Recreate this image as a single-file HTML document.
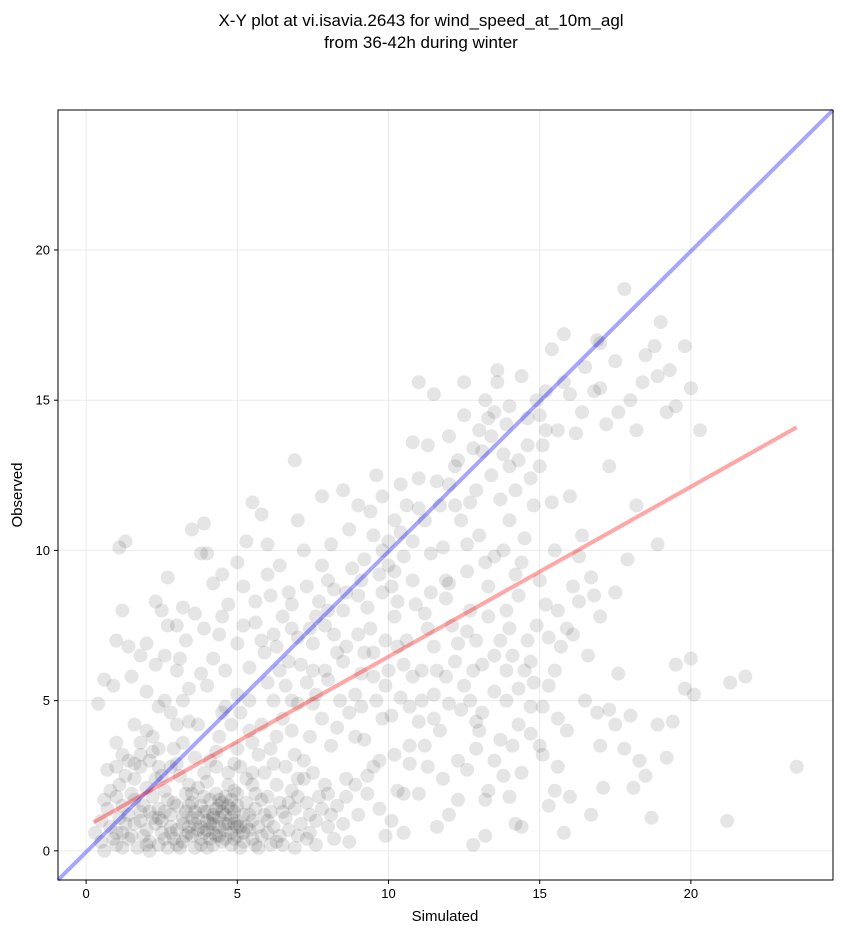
<!DOCTYPE html>
<html><head><meta charset="utf-8"><style>
body{margin:0;background:#fff;font-family:"Liberation Sans","DejaVu Sans",sans-serif}
</style></head><body>
<svg id="chart" width="843" height="934" xmlns="http://www.w3.org/2000/svg" font-family="Liberation Sans, DejaVu Sans, sans-serif">
<text x="421" y="26" text-anchor="middle" font-size="17">X-Y plot at vi.isavia.2643 for wind_speed_at_10m_agl</text>
<text x="421" y="48" text-anchor="middle" font-size="17">from 36-42h during winter</text>
<g id="grid"></g>
<g id="pts"></g>
<g id="lines"></g>
<rect x="58" y="110" width="775" height="770" fill="none" stroke="#000" stroke-width="1"/>
<g id="ticks"></g>
<text x="445" y="921" text-anchor="middle" font-size="15">Simulated</text>
<text transform="translate(22,495) rotate(-90)" text-anchor="middle" font-size="15">Observed</text>
</svg>
<script>
const xTicks=[0,5,10,15,20];
const yTicks=[0,5,10,15,20];
const oneToOne=[[-0.93,-0.97],[24.7,24.66]];
const fitLine=[[0.25,0.95],[23.5,14.1]];
const pointData="0.5,0.3 0.8,0.8 1,0.2 1.2,1.5 1.5,0.5 1.8,1.0 2,0.2 2.2,1.8 2.5,0.6 2.8,1.2 3,0.2 3.2,0.9 3.5,1.6 3.8,0.4 4,1.0 4.2,0.2 4.5,1.3 4.8,0.6 5,1.5 5.2,0.3 5.5,1.0 5.8,0.5 6,1.8 6.3,0.3 6.6,1.1 7,0.5 7.3,1.6 7.6,0.2 8,0.8 1.1,2.2 1.6,2.4 2.1,1.3 2.6,2.0 3.1,2.5 3.4,0.6 3.7,2.1 4.1,1.7 4.4,0.8 4.7,2.2 4.9,0.9 5.3,2.4 5.6,1.9 5.9,2.6 6.2,0.8 6.8,2.0 7.1,0.9 7.5,2.6 7.9,2.2 8.3,1.5 8.7,0.3 9,1.2 0.3,0.6 0.7,1.4 1.3,0.9 1.7,0.1 2.3,0.9 2.7,0.1 2.9,1.6 3.3,1.3 3.6,0.1 3.9,1.3 4.3,0.5 4.6,1.8 5.1,0.1 5.4,0.7 5.7,0.1 6.1,1.3 6.5,0.2 6.9,1.4 7.4,1.2 4.0,0.7 4.3,1.4 3.6,0.9 4.8,1.1 5.0,0.5 4.5,0.3 3.9,1.8 2.4,1.4 2.0,0.7 1.4,0.4 3.0,0.7 3.3,1.9 4.7,1.5 5.2,1.2 4.1,0.4 3.7,1.1 2.6,0.4 1.9,1.5 5.6,1.4 6.4,1.6 4.4,1.1 4.9,1.3 3.5,0.5 4.6,0.7 5.3,0.8 3.8,1.5 4.2,1.2 2.9,0.4 2.2,1.1 1.6,1.7 1.2,0.6 5.0,1.9 4.0,2.3 3.4,2.2 2.5,2.5 4.8,0.2 3.2,0.3 2.1,0.3 6.0,0.6 6.7,0.7 5.5,2.2 " +
"1,3.6 1.5,5.8 1.2,8.0 1.3,10.3 1.1,10.1 2,4.0 2.3,6.2 2.5,8.0 2.7,9.1 3,7.5 3.2,5.0 3.5,10.7 3.8,9.9 3.9,10.9 4.2,8.9 4.4,7.2 4.6,6.0 4.8,4.2 5,9.6 5.3,10.3 5.5,11.6 5.8,11.2 5.2,7.5 5.6,8.3 6,9.2 6.2,5.0 6.5,7.8 6.7,6.3 6.9,13.0 7,11.0 7.3,8.8 7.5,6.0 7.8,4.4 8,9.0 8.2,7.2 8.5,12.0 8.7,10.7 9,8.5 9.2,6.6 9.4,11.3 9.6,12.5 9.8,10.0 10,9.5 10.2,7.8 10.4,12.2 10.6,11.5 " +
"2.1,3.0 2.4,4.8 2.9,3.4 3.1,6.4 3.4,4.3 3.6,7.9 4.0,5.5 4.3,3.3 4.7,8.2 4.9,2.9 5.4,4.0 5.7,3.2 5.9,6.6 6.3,3.8 6.6,5.5 6.8,4.0 7.2,3.0 7.6,5.2 7.9,7.5 8.1,3.5 8.4,5.0 8.6,6.8 8.9,3.8 9.1,4.8 9.3,2.5 9.5,5.8 9.7,3.0 9.9,7.0 10.1,4.5 10.3,2.0 10.5,6.2 10.7,3.5 10.9,8.2 11.1,5.0 11.3,2.8 11.5,6.8 11.7,4.0 11.9,9.0 12.1,7.5 12.3,3.0 12.5,5.5 12.7,8.0 12.9,4.3 13.1,6.2 13.3,2.0 13.5,9.8 13.7,7.0 13.9,5.0 14.1,3.5 14.3,8.5 14.5,6.0 14.7,4.8 14.9,7.5 15.1,3.2 15.3,5.5 15.5,2.0 15.7,6.8 15.9,4.0 16.1,7.2 16.3,9.8 16.5,5.0 16.8,8.5 17.0,3.5 17.3,4.7 17.6,5.9 17.8,3.4 18,4.5 18.3,3.0 18.5,2.5 18.7,1.1 18.9,4.2 19.2,3.1 19.4,4.3 19.5,6.2 19.8,5.4 20,6.4 20.1,5.2 21.2,1.0 21.3,5.6 21.8,5.8 23.5,2.8 18.9,10.2 18.1,2.1 17.1,2.1 16.7,1.2 15.8,0.6 16,1.8 12.8,0.2 13.2,0.5 11.6,0.8 12.0,1.2 14.2,0.9 14.4,0.8 11,1.9 9.9,0.5 10.5,1.9 " +
"9.5,10.5 10,10.3 10.2,11.0 10.5,9.8 11,12.4 11.2,11.0 11.5,15.2 11.3,13.5 12,12.2 12.3,13.0 12.5,14.5 12.7,11.6 13,14.0 13.2,15.0 13.4,12.5 13.6,15.6 13.8,13.2 14,14.8 14.2,12.0 14.4,15.8 14.6,13.5 14.8,11.5 15,14.5 15.2,15.3 15.4,16.7 15.6,14.0 15.8,17.2 16,15.2 16.2,13.9 16.5,16.1 16.8,15.3 17,16.9 17.2,14.2 17.5,16.3 17.8,18.7 18,15.0 18.2,14.0 18.5,16.5 18.8,16.8 19,17.6 19.3,16.0 19.5,14.8 19.8,16.8 20,15.4 20.3,14.0 13.6,16.0 11,15.6 12.5,15.6 10.8,13.6 12.2,11.5 14.5,10.4 15.0,12.8 15.4,11.6 16.0,11.8 16.4,10.5 17.3,12.8 17.9,9.7 18.2,11.5 16.1,8.8 15.9,7.4 14.2,9.2 13.0,10.5 11.8,10.1 13.3,8.8 10.8,9.0 12.6,9.3 13.9,14.2 14.3,13.0 13.1,13.3 12.9,12.0 14.0,11.0 15.1,13.5 13.5,14.6 12.0,13.8 " +
"6,5.6 6.3,6.8 6.1,8.5 5.8,7.0 5.4,6.1 5.0,5.2 4.6,4.8 4.2,6.4 3.8,5.9 3.4,5.4 3.0,6.0 2.6,5.0 2.2,3.3 1.8,3.6 1.4,3.0 1.0,2.8 0.6,1.7 0.4,4.9 0.6,5.7 0.7,2.7 7,7.1 7.3,5.6 7.6,7.8 7.8,9.5 8.2,8.7 8.5,8.0 8.8,9.4 9.1,9.0 9.4,7.4 9.6,5.0 9.8,8.6 10.3,8.3 10.6,7.0 10.8,5.8 11.2,7.9 11.4,9.9 11.6,6.0 11.9,8.4 12.2,6.3 12.4,4.7 12.6,7.3 12.8,6.0 13.0,4.0 13.3,7.8 13.5,5.3 13.7,3.7 13.9,8.0 14.1,6.5 14.3,4.2 14.6,7.0 14.8,5.6 15.2,8.2 15.6,4.4 8.0,5.7 8.3,4.1 8.6,2.4 8.9,5.2 9.2,3.7 9.5,2.8 9.8,4.4 10.0,6.0 10.2,3.2 10.4,5.1 10.7,2.9 11.0,4.3 11.2,3.5 11.5,5.2 11.8,2.4 12.0,4.9 12.3,1.7 12.6,2.7 12.9,3.4 13.2,1.7 13.5,3.0 13.8,2.5 14.0,1.8 14.4,2.6 14.7,3.9 15.0,3.5 15.3,1.5 15.6,2.8 6.4,9.5 6.7,8.6 7.2,10.0 7.7,8.3 6.0,10.2 5.2,8.8 4.5,9.2 4.0,9.9 3.2,8.1 2.7,7.5 2.3,8.3 1.8,6.5 1.4,6.8 1.0,7.0 0.9,5.5 1.6,4.2 2.0,5.3 2.8,4.6 6.5,4.4 7.0,4.9 7.4,3.8 6.2,2.9 6.9,3.2 5.5,3.6 5.1,4.6 4.4,3.8 3.6,3.1 3.0,4.2 2.4,2.8 1.2,3.2 8.5,6.3 9.0,7.2 7.5,6.9 6.8,7.4 9.3,8.1 10.1,8.8 8.1,10.2 9.0,11.5 7.8,11.8 " +
"0.9,0.4 1.4,1.2 1.9,0.5 2.4,0.2 2.8,0.8 3.3,0.5 3.7,0.7 4.1,0.9 4.5,1.6 4.9,0.4 5.3,1.6 5.7,0.8 6.1,0.2 6.5,1.3 7.0,1.8 7.4,0.6 7.8,1.4 8.2,0.4 8.6,1.8 1.1,1.1 1.5,1.9 2.0,2.1 2.5,1.0 3.0,1.5 3.5,1.1 3.9,0.6 4.3,1.9 4.7,0.9 5.1,0.8 5.5,0.4 5.9,1.2 6.3,2.2 6.7,1.6 7.2,2.4 7.6,1.0 8.0,1.9 4.2,0.9 4.6,1.2 3.8,0.2 4.4,0.5 5.0,1.0 3.4,1.5 2.7,1.7 2.3,2.4 1.8,2.8 1.3,2.5 0.8,2.0 0.5,1.0 " +
"1.6,2.9 2.2,3.8 2.8,2.8 3.2,3.6 3.7,4.2 4.1,3.0 4.5,4.6 5.0,3.4 5.4,5.0 5.8,4.2 6.1,3.4 6.4,6.0 6.8,5.0 7.1,6.2 7.5,4.9 7.9,6.0 8.3,6.6 8.7,4.6 9.1,5.9 9.5,6.6 9.9,5.5 10.3,6.8 10.7,4.8 11.1,6.0 11.5,4.4 11.9,5.8 12.3,6.9 12.7,5.0 13.1,4.6 13.5,6.5 13.9,6.0 14.3,5.4 14.7,6.3 15.1,4.8 15.5,6.0 2.0,6.9 2.6,6.5 3.3,7.0 3.9,7.4 4.5,7.8 5.0,6.9 5.6,7.6 6.2,7.2 6.8,8.2 7.4,7.4 8.0,8.0 8.6,8.6 9.2,9.7 9.7,9.2 10.2,9.3 10.8,10.3 11.4,8.6 12.0,8.9 12.6,10.2 13.2,9.6 13.8,10.0 14.4,9.6 15.0,9.0 15.6,8.0 16.3,8.3 17.0,7.8 16.6,6.5 16.9,4.6 17.5,4.2 " +
"9.8,11.8 10.4,10.6 11.0,11.4 11.6,12.3 12.2,12.8 12.8,13.4 13.4,13.8 14.0,12.8 14.6,14.4 15.2,14.0 15.8,15.6 16.4,14.6 17.0,15.4 17.6,14.6 18.4,15.6 18.9,15.8 19.2,14.6 16.9,17.0 14.9,15.0 13.3,14.4 12.4,11.0 11.7,11.5 13.7,11.7 14.7,12.4 15.5,10.0 16.7,9.1 17.5,8.6 15.3,7.1 14.0,7.4 12.9,7.0 11.3,7.4 " +
"0.6,0.0 1.0,0.6 1.6,0.9 2.1,0.0 2.6,1.3 3.1,0.1 3.5,1.9 4.0,0.1 4.4,1.5 4.8,1.7 5.2,0.6 5.6,0.2 6.0,1.0 6.4,0.5 6.9,0.1 7.3,0.4 7.7,1.8 8.1,1.2 8.5,0.9 8.9,2.2 9.3,1.9 9.7,1.4 10.1,1.0 10.5,0.6 3.9,2.6 4.3,2.8 4.7,2.6 5.1,2.8 5.5,2.6 3.0,2.9 2.4,3.4 1.8,3.2 6.6,2.8 7.0,2.4 " +
"4.2,1.1 4.6,0.9 4.0,1.3 4.8,1.4 4.4,1.7 3.6,1.3 3.2,1.1 3.8,0.8 5.0,0.8 4.2,0.6 4.6,0.4 3.4,0.8 2.8,0.6 2.4,1.1 5.4,1.2 5.8,1.7 4.9,2.0 1.2,0.1 1.0,1.8 1.8,1.3";
const points=pointData.trim().split(/\s+/).map(s=>s.split(',').map(Number));

const X0=58,X1=833,Y0=110,Y1=880,xmin=-0.93,xmax=24.7,ymin=-0.97,ymax=24.66;
const sx=v=>X0+(v-xmin)/(xmax-xmin)*(X1-X0);
const sy=v=>Y1-(v-ymin)/(ymax-ymin)*(Y1-Y0);
const NS="http://www.w3.org/2000/svg";
function mk(tag,attrs,parent){const e=document.createElementNS(NS,tag);for(const k in attrs)e.setAttribute(k,attrs[k]);parent.appendChild(e);return e;}
const grid=document.getElementById('grid'),ticks=document.getElementById('ticks');
xTicks.forEach(t=>{
  const g=mk('line',{x1:sx(t),x2:sx(t),y1:Y0,y2:Y1,stroke:'#ebebeb','stroke-width':1},grid);
  
  
  const tk=mk('line',{x1:sx(t),x2:sx(t),y1:Y1,y2:Y1+4,stroke:'#000'},ticks);
  
  
  const tx=mk('text',{x:sx(t),y:Y1+18,'text-anchor':'middle','font-size':13},ticks);
  tx.textContent=t;
  
  
});
yTicks.forEach(t=>{
  const g=mk('line',{x1:X0,x2:X1,y1:sy(t),y2:sy(t),stroke:'#ebebeb','stroke-width':1},grid);
  
  
  const tk=mk('line',{x1:X0-4,x2:X0,y1:sy(t),y2:sy(t),stroke:'#000'},ticks);
  
  
  const tx=mk('text',{x:X0-8,y:sy(t)+4.5,'text-anchor':'end','font-size':13},ticks);
  tx.textContent=t;
  
  
});
const pg=document.getElementById('pts');
points.forEach(p=>{
  const c=mk('circle',{cx:sx(p[0]),cy:sy(p[1]),r:7,fill:'#000','fill-opacity':0.1},pg);
  
  
});
const lg=document.getElementById('lines');
const l1=mk('line',{x1:sx(oneToOne[0][0]),y1:sy(oneToOne[0][1]),x2:sx(oneToOne[1][0]),y2:sy(oneToOne[1][1]),stroke:'#0000ff','stroke-opacity':0.35,'stroke-width':4},lg);


const l2=mk('line',{x1:sx(fitLine[0][0]),y1:sy(fitLine[0][1]),x2:sx(fitLine[1][0]),y2:sy(fitLine[1][1]),stroke:'#ff0000','stroke-opacity':0.35,'stroke-width':4},lg);


</script>
</body></html>
